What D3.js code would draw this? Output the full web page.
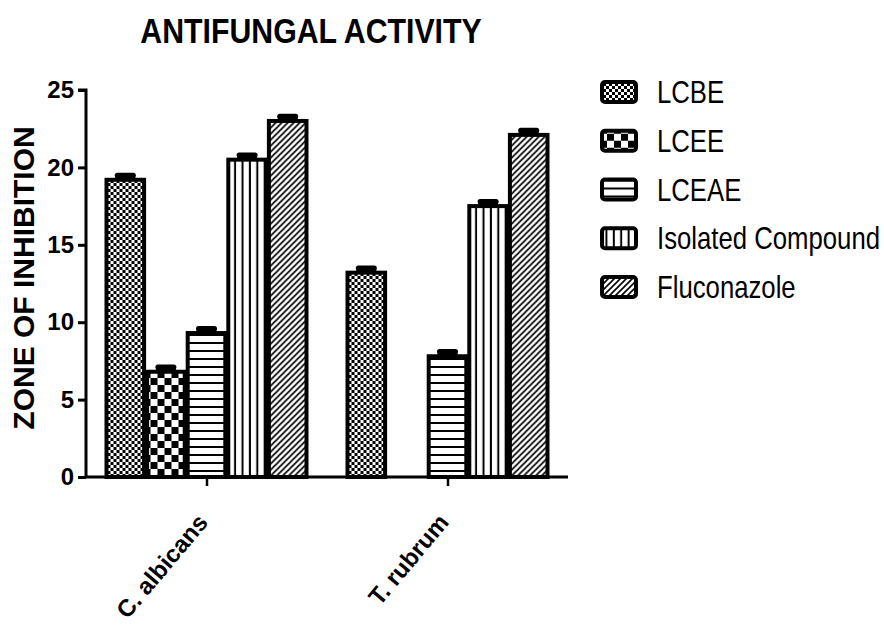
<!DOCTYPE html>
<html>
<head>
<meta charset="utf-8">
<script src="https://cdn.jsdelivr.net/npm/d3@7"></script>
<style>
  body { margin: 0; background: #fff; }
  svg text { font-family: "Liberation Sans", Arial, sans-serif; fill: #000; }
</style>
</head>
<body>
<div class="graph"></div>
<script>
const width = 884;
const height = 629;

// data
const organisms = ["C. albicans", "T. rubrum"];
const series = ["LCBE", "LCEE", "LCEAE", "Isolated Compound", "Fluconazole"];
const albicansValues = [19.2, 6.8, 9.3, 20.5, 23.0];
const rubrumValues = [13.2, null, 7.8, 17.5, 22.1];
const albicansErrors = [0.3, 0.3, 0.3, 0.3, 0.3];
const rubrumErrors = [0.3, null, 0.3, 0.3, 0.3];
const yTicks = [0, 5, 10, 15, 20, 25];

const valueTable = [albicansValues, rubrumValues];
const errorTable = [albicansErrors, rubrumErrors];

const patternIds = ["p-fine", "p-check", "p-hlines", "p-vlines", "p-diag"];

const svg = d3
  .select(".graph")
  .append("svg")
  .attr("width", width)
  .attr("height", height);

// fill patterns
const defs = svg.append("defs");

let pat = defs.append("pattern").attr("id", "p-fine")
  .attr("patternUnits", "userSpaceOnUse").attr("width", 6).attr("height", 6);
pat.append("rect").attr("width", 6).attr("height", 6).attr("fill", "#fff");
pat.append("rect").attr("width", 3).attr("height", 3).attr("fill", "#000");
pat.append("rect").attr("x", 3).attr("y", 3).attr("width", 3).attr("height", 3).attr("fill", "#000");

pat = defs.append("pattern").attr("id", "p-check")
  .attr("patternUnits", "userSpaceOnUse").attr("width", 14).attr("height", 14);
pat.append("rect").attr("width", 14).attr("height", 14).attr("fill", "#fff");
pat.append("rect").attr("width", 7).attr("height", 7).attr("fill", "#000");
pat.append("rect").attr("x", 7).attr("y", 7).attr("width", 7).attr("height", 7).attr("fill", "#000");

pat = defs.append("pattern").attr("id", "p-hlines")
  .attr("patternUnits", "userSpaceOnUse").attr("width", 8).attr("height", 8);
pat.append("rect").attr("width", 8).attr("height", 8).attr("fill", "#fff");
pat.append("rect").attr("y", 6).attr("width", 8).attr("height", 2).attr("fill", "#000");

pat = defs.append("pattern").attr("id", "p-vlines")
  .attr("patternUnits", "userSpaceOnUse").attr("width", 7.4).attr("height", 8);
pat.append("rect").attr("width", 7.4).attr("height", 8).attr("fill", "#fff");
pat.append("rect").attr("x", 5.4).attr("width", 2).attr("height", 8).attr("fill", "#000");

pat = defs.append("pattern").attr("id", "p-diag")
  .attr("patternUnits", "userSpaceOnUse").attr("width", 6).attr("height", 6);
pat.append("rect").attr("width", 6).attr("height", 6).attr("fill", "#fff");
pat.append("path").attr("d", "M-1,1 L1,-1 M0,6 L6,0 M5,7 L7,5")
  .attr("stroke", "#000").attr("stroke-width", 1.6);

// scales
const xScale = d3.scalePoint().domain(organisms).range([86, 568]).padding(0.5);
const xInner = d3.scaleBand().domain(series).range([-101.5, 101.5]);
const yScale = d3.scaleLinear().domain([0, 25]).range([477, 90]);

// title
svg.append("text")
  .attr("transform", "translate(311,43) scale(0.865,1)")
  .attr("text-anchor", "middle")
  .style("font-size", "35px")
  .style("font-weight", "bold")
  .text("ANTIFUNGAL ACTIVITY");

// bars
const groups = svg.selectAll(".group")
  .data(organisms)
  .enter()
  .append("g")
  .attr("class", "group")
  .attr("transform", (d) => "translate(" + xScale(d) + ",0)");

groups.each(function (org, gi) {
  const g = d3.select(this);
  const rows = series.map((s, i) => ({
    name: s,
    value: valueTable[gi][i],
    err: errorTable[gi][i],
    fill: patternIds[i],
  })).filter((d) => d.value != null);

  // error bars first, bars on top
  g.selectAll(".err")
    .data(rows)
    .enter()
    .append("line")
    .attr("class", "err")
    .attr("x1", (d) => xInner(d.name) + xInner.bandwidth() / 2 - 8)
    .attr("x2", (d) => xInner(d.name) + xInner.bandwidth() / 2 + 8)
    .attr("y1", (d) => yScale(d.value + d.err))
    .attr("y2", (d) => yScale(d.value + d.err))
    .attr("stroke", "#000")
    .attr("stroke-width", 5)
    .attr("stroke-linecap", "round");

  g.selectAll(".stem")
    .data(rows)
    .enter()
    .append("rect")
    .attr("class", "stem")
    .attr("x", (d) => xInner(d.name) + xInner.bandwidth() / 2 - 10)
    .attr("width", 20)
    .attr("y", (d) => yScale(d.value + d.err))
    .attr("height", (d) => yScale(d.value) - yScale(d.value + d.err))
    .attr("fill", "#000");

  g.selectAll(".bar")
    .data(rows)
    .enter()
    .append("rect")
    .attr("class", "bar")
    .attr("x", (d) => xInner(d.name) + 1.5)
    .attr("width", xInner.bandwidth() - 3)
    .attr("y", (d) => yScale(d.value))
    .attr("height", (d) => yScale(0) - yScale(d.value))
    .attr("fill", (d) => "url(#" + d.fill + ")")
    .attr("stroke", "#000")
    .attr("stroke-width", 4);
});

// axes
const yAxis = d3.axisLeft(yScale).tickValues(yTicks).tickSize(8).tickPadding(4);
const yG = svg.append("g").attr("transform", "translate(86,0)").call(yAxis);
yG.select(".domain").attr("d", "M-8,90H0V477").attr("stroke-width", 3);
yG.selectAll(".tick line").attr("stroke-width", 3);
yG.selectAll(".tick text")
  .style("font-size", "24px")
  .style("font-weight", "bold");

const xAxis = d3.axisBottom(xScale).tickSize(9).tickPadding(6);
const xG = svg.append("g").attr("transform", "translate(0,477)").call(xAxis);
xG.select(".domain").attr("d", "M86,0H568").attr("stroke-width", 3);
xG.selectAll(".tick line").attr("stroke-width", 2.5);
xG.selectAll(".tick text")
  .style("font-size", "24px")
  .style("font-weight", "bold")
  .attr("text-anchor", "end")
  .attr("x", 0)
  .attr("y", 0)
  .attr("dy", 0)
  .attr("transform", "translate(2,46) rotate(-50)");

// y axis title
svg.append("text")
  .attr("transform", "translate(34,278) rotate(-90)")
  .attr("text-anchor", "middle")
  .style("font-size", "30px")
  .style("font-weight", "bold")
  .text("ZONE OF INHIBITION");

// legend
const legendY = d3.scalePoint().domain(series).range([92, 287]);
const legend = svg.append("g").attr("id", "legend");
const items = legend.selectAll(".item")
  .data(series)
  .enter()
  .append("g")
  .attr("class", "item")
  .attr("transform", (d) => "translate(600," + legendY(d) + ")");

items.append("rect")
  .attr("x", 2)
  .attr("y", -10)
  .attr("width", 34)
  .attr("height", 20)
  .attr("rx", 3)
  .attr("fill", (d, i) => "url(#" + patternIds[i] + ")")
  .attr("stroke", "#000")
  .attr("stroke-width", 4);

items.append("text")
  .attr("transform", "translate(57,0) scale(0.83,1)")
  .attr("dy", "0.36em")
  .style("font-size", "31px")
  .text((d) => d);
</script>
</body>
</html>
